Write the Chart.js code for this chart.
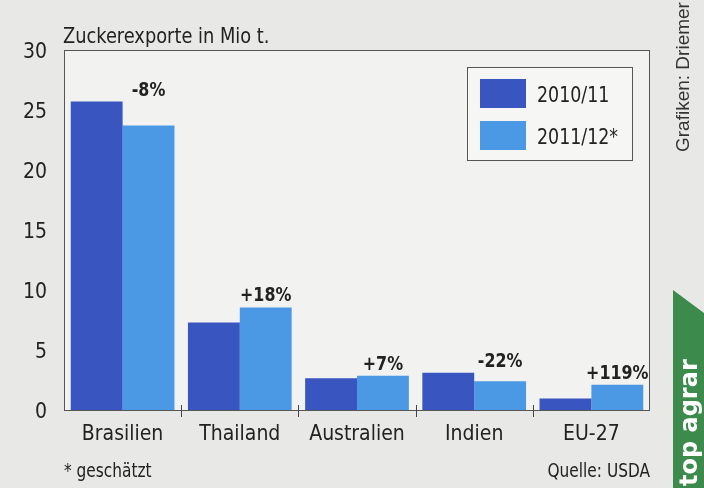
<!DOCTYPE html>
<html>
<head>
<meta charset="utf-8">
<script src="https://cdn.jsdelivr.net/npm/chart.js@4"></script>
<style>
    html, body { margin: 0; padding: 0; background: #e8e8e6; }
    #wrap { position: relative; width: 704px; height: 488px; }
</style>
</head>
<body>
<div id="wrap"><canvas id="sugarChart" width="704" height="488"></canvas></div>
<script>
const categories = ['Brasilien', 'Thailand', 'Australien', 'Indien', 'EU-27'];
const seriesLabels = ['2010/11', '2011/12*'];
const exports2010 = [25.7, 7.3, 2.65, 3.1, 0.95];
const exports2011 = [23.7, 8.55, 2.85, 2.4, 2.1];
const changes = ['-8%', '+18%', '+7%', '-22%', '+119%'];
const yMin = 0, yMax = 30, yStep = 5;

const FONT = '"DejaVu Sans Condensed", "Liberation Sans Narrow", sans-serif';
const TEXT = '#222';

// squeezed text, the original uses a condensed grotesque
function narrowText(ctx, text, x, y, font, align, sx) {
    ctx.save();
    ctx.font = font;
    ctx.textAlign = align;
    ctx.translate(x, y);
    ctx.scale(sx, 1);
    ctx.fillText(text, 0, 0);
    ctx.restore();
}

const decorations = {
    id: 'decorations',
    beforeDraw(chart) {
        const { ctx, chartArea: a } = chart;
        ctx.save();
        ctx.fillStyle = '#f2f2f1';
        ctx.fillRect(a.left, a.top, a.right - a.left, a.bottom - a.top);
        ctx.restore();
    },
    afterDraw(chart) {
        const { ctx, chartArea: a } = chart;
        const x = chart.scales.x, y = chart.scales.y;
        ctx.save();

        // frame
        ctx.strokeStyle = '#555';
        ctx.lineWidth = 1;
        ctx.strokeRect(a.left + 0.5, a.top + 0.5, a.right - a.left - 1, a.bottom - a.top);

        // separators between categories
        ctx.strokeStyle = '#444';
        for (let i = 1; i < categories.length; i++) {
            const px = Math.round((x.getPixelForValue(i - 1) + x.getPixelForValue(i)) / 2) + 0.5;
            ctx.beginPath();
            ctx.moveTo(px, a.bottom - 5);
            ctx.lineTo(px, a.bottom + 7);
            ctx.stroke();
        }

        // change in percent above each pair
        const meta = chart.getDatasetMeta(1);
        ctx.fillStyle = TEXT;
        ctx.textBaseline = 'alphabetic';
        categories.forEach((c, i) => {
            const top = y.getPixelForValue(Math.max(exports2010[i], exports2011[i]));
            narrowText(ctx, changes[i], meta.data[i].x, top - 6, 'bold 19px ' + FONT, 'center', 0.93);
        });

        // legend
        const lx = 467, ly = 67, lw = 165, lh = 93;
        ctx.fillStyle = '#f6f6f5';
        ctx.fillRect(lx, ly, lw, lh);
        ctx.strokeStyle = '#555';
        ctx.strokeRect(lx + 0.5, ly + 0.5, lw, lh);
        chart.data.datasets.forEach((ds, i) => {
            const ry = ly + 12 + i * 42;
            ctx.fillStyle = ds.backgroundColor;
            ctx.fillRect(lx + 13, ry, 46, 29);
            ctx.fillStyle = TEXT;
            narrowText(ctx, ds.label, lx + 70, ry + 23, '22px ' + FONT, 'left', 0.88);
        });

        // title and footnotes
        narrowText(ctx, 'Zuckerexporte in Mio t.', 63, 43, '22px ' + FONT, 'left', 0.9);
        narrowText(ctx, '* geschätzt', 64, 477, '19px ' + FONT, 'left', 0.9);
        narrowText(ctx, 'Quelle: USDA', 650, 477, '19px ' + FONT, 'right', 0.9);

        // side credit
        ctx.save();
        ctx.translate(689, 152);
        ctx.rotate(-Math.PI / 2);
        ctx.textAlign = 'left';
        ctx.font = '19px "Liberation Sans", sans-serif';
        ctx.fillStyle = '#333';
        ctx.fillText('Grafiken: Driemer', 0, 0);
        ctx.restore();

        // green tab
        ctx.fillStyle = '#3c8a4c';
        ctx.beginPath();
        ctx.moveTo(673, 290);
        ctx.lineTo(704, 313);
        ctx.lineTo(704, 488);
        ctx.lineTo(673, 488);
        ctx.closePath();
        ctx.fill();
        ctx.save();
        ctx.translate(697, 486);
        ctx.rotate(-Math.PI / 2);
        ctx.textAlign = 'left';
        ctx.font = 'bold 24px "DejaVu Sans", sans-serif';
        ctx.fillStyle = '#fff';
        ctx.fillText('top agrar', 0, 0);
        ctx.restore();

        ctx.restore();
    }
};

function drawChart() {
    const ctx = document.getElementById('sugarChart').getContext('2d');
    new Chart(ctx, {
        type: 'bar',
        data: {
            labels: categories,
            datasets: [
                { label: seriesLabels[0], data: exports2010, backgroundColor: '#3855c0' },
                { label: seriesLabels[1], data: exports2011, backgroundColor: '#4b98e5' }
            ]
        },
        options: {
            responsive: false,
            animation: false,
            layout: { padding: { top: 50, right: 54, left: 0, bottom: 0 } },
            datasets: {
                bar: { categoryPercentage: 0.885, barPercentage: 1.0 }
            },
            plugins: {
                legend: { display: false },
                tooltip: { enabled: false }
            },
            scales: {
                x: {
                    grid: { display: false },
                    border: { display: false },
                    ticks: { color: TEXT, font: { family: FONT, size: 21 }, padding: 4 },
                    afterFit(scale) { scale.height = 78; }
                },
                y: {
                    min: yMin,
                    max: yMax,
                    grid: { display: false },
                    border: { display: false },
                    ticks: { stepSize: yStep, color: TEXT, font: { family: FONT, size: 21 }, padding: 9, labelOffset: 3 },
                    afterFit(scale) { scale.width = 64; }
                }
            }
        },
        plugins: [decorations]
    });
}

document.addEventListener('DOMContentLoaded', () => {
    drawChart();
});
</script>
</body>
</html>
